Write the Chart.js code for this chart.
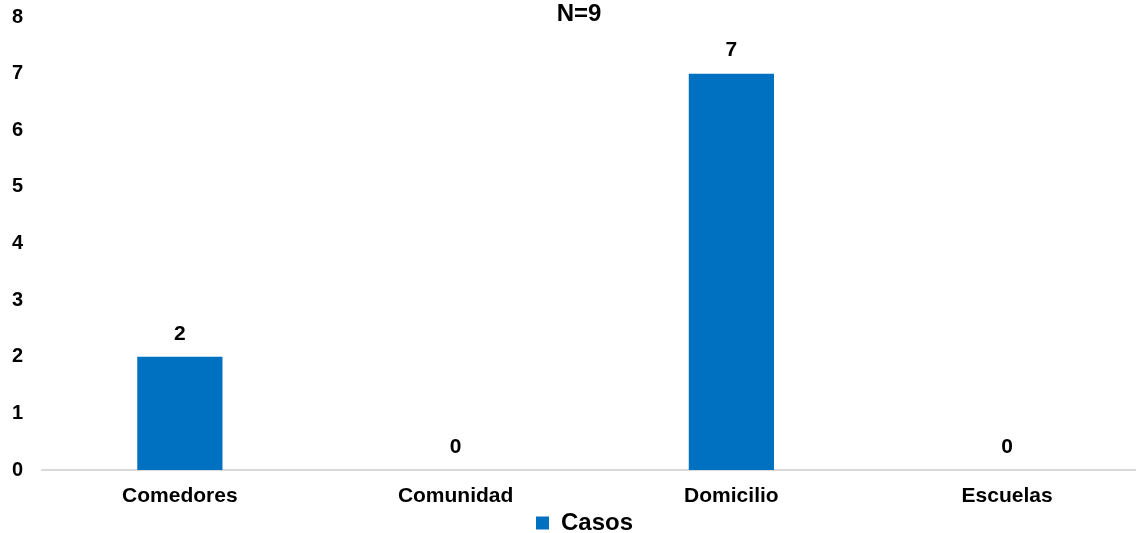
<!DOCTYPE html>
<html>
<head>
<meta charset="utf-8">
<script src="https://cdn.jsdelivr.net/npm/chart.js@4.4.1/dist/chart.umd.min.js"></script>
<style>
  html, body { margin: 0; padding: 0; background: #fff; overflow: hidden; }
  #wrap { position: relative; width: 1145px; height: 545px; }
</style>
</head>
<body>
<div id="wrap"><canvas id="chart"></canvas></div>
<script>
const categories = ['Comedores', 'Comunidad', 'Domicilio', 'Escuelas'];
const casos = [2, 0, 7, 0];
const seriesName = 'Casos';
const chartTitle = 'N=9';
const yTicks = [0, 1, 2, 3, 4, 5, 6, 7, 8];

const FONT = '"Liberation Sans", Arial, sans-serif';
const BLUE = '#0070C0';

// Value labels above each bar and the title line, drawn on the canvas
const labelsPlugin = {
  id: 'valueLabels',
  afterLayout(chart) {
    // nudge the legend a little to the right of the canvas centre
    chart.legend.left += 12;
    chart.legend.right += 12;
  },
  afterDatasetsDraw(chart) {
    const ctx = chart.ctx;
    ctx.save();
    ctx.fillStyle = '#000';
    ctx.font = 'bold 21px ' + FONT;
    ctx.textAlign = 'center';
    ctx.textBaseline = 'middle';
    const meta = chart.getDatasetMeta(0);
    meta.data.forEach((bar, i) => {
      ctx.fillText(String(casos[i]), bar.x, bar.y - 23);
    });
    ctx.font = 'bold 24px ' + FONT;
    ctx.fillText(chartTitle, 579, 14);
    ctx.restore();
  }
};

new Chart(document.getElementById('chart'), {
  type: 'bar',
  data: {
    labels: categories,
    datasets: [{
      label: seriesName,
      data: casos,
      backgroundColor: BLUE,
      borderWidth: 0,
      categoryPercentage: 1,
      barPercentage: 0.309
    }]
  },
  options: {
    responsive: true,
    maintainAspectRatio: false,
    animation: false,
    layout: { padding: { top: 17, right: 0, bottom: 0, left: 0 } },
    plugins: {
      legend: {
        position: 'bottom',
        labels: {
          color: '#000',
          font: { family: FONT, size: 24, weight: 'bold' },
          boxWidth: 13,
          boxHeight: 13,
          padding: 0
        }
      },
      tooltip: { enabled: false },
      title: { display: false }
    },
    scales: {
      x: {
        afterFit(scale) { scale.height = 41; },
        grid: { display: false, drawTicks: false },
        border: { display: true, color: '#d9d9d9', width: 2 },
        ticks: {
          color: '#000',
          font: { family: FONT, size: 21, weight: 'bold' },
          padding: 14
        }
      },
      y: {
        min: 0,
        max: 8,
        afterBuildTicks(scale) { scale.ticks = yTicks.map(v => ({ value: v })); },
        afterFit(scale) {
          scale.width = 42;
          scale.paddingTop = 0;
          scale.paddingBottom = 0;
        },
        grid: { display: false, drawTicks: false },
        border: { display: false },
        ticks: {
          color: '#000',
          font: { family: FONT, size: 20, weight: 'bold' },
          padding: 19,
          stepSize: 1
        }
      }
    }
  },
  plugins: [labelsPlugin]
});
</script>
</body>
</html>
